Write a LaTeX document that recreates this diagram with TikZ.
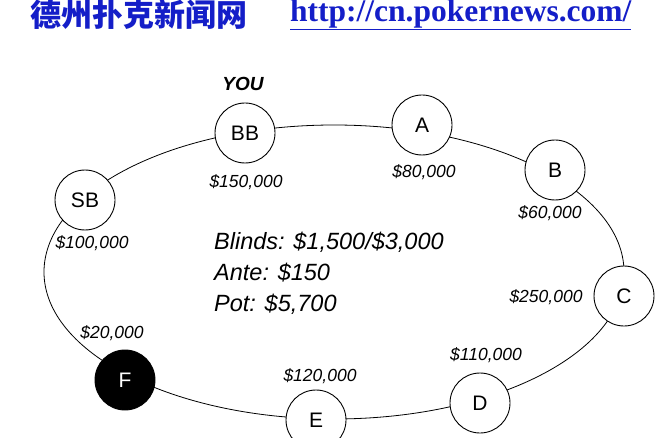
\documentclass[tikz,border=0pt]{standalone}
\usepackage{fontspec}
\setmainfont{Liberation Sans}
\newfontfamily\cjk{Noto Sans CJK SC}
\newfontfamily\urlfont{Liberation Serif}
\definecolor{headblue}{RGB}{20,30,200}
\tikzset{
  seat/.style={circle, draw, line width=0.9pt, minimum size=60pt, inner sep=0pt, fill=white, font=\fontsize{21}{21}\selectfont},
  stack/.style={font=\itshape\fontsize{17.5}{17.5}\selectfont},
}
\begin{document}
\begin{tikzpicture}[x=1pt, y=-1pt]
    \useasboundingbox[fill=white] (0,0) rectangle (660,438);
    % header
    \node[anchor=west, text=headblue, inner sep=0pt, font=\cjk\bfseries\fontsize{31}{31}\selectfont] (site) at (30,15) {德州扑克新闻网};
    \node[anchor=west, text=headblue, inner sep=0pt, font=\urlfont\bfseries\fontsize{31.5}{31.5}\selectfont] (url) at (290,15) {\underline{http://cn.pokernews.com/}};

    % table
    \draw[line width=0.8pt] (334,272) ellipse (290 and 147);

    \node[seat] (BB) at (245,133) {BB};
    \node[seat] (A) at (422,125) {A};
    \node[seat] (B) at (555,170) {B};
    \node[seat] (C) at (624,296) {C};
    \node[seat] (D) at (480,403) {D};
    \node[seat] (E) at (316,420) {E};
    \node[seat, fill=black, text=white] (F) at (125,380) {F};
    \node[seat] (SB) at (85,200) {SB};

    \node[font=\bfseries\itshape\fontsize{19}{19}\selectfont] (you) at (243,84) {YOU};
    \node[stack] (sBB) at (246,182) {\$150,000};
    \node[stack] (sA) at (424,172) {\$80,000};
    \node[stack] (sB) at (550,213) {\$60,000};
    \node[stack] (sC) at (546,297) {\$250,000};
    \node[stack] (sD) at (486,355) {\$110,000};
    \node[stack] (sE) at (320,376) {\$120,000};
    \node[stack] (sF) at (112,333) {\$20,000};
    \node[stack] (sSB) at (92,243) {\$100,000};

    \node[anchor=north west, align=left, inner sep=0pt, font=\itshape\fontsize{23.5}{31}\selectfont] (info) at (214,232)
        {Blinds: \$1,500/\$3,000\\Ante: \$150\\Pot: \$5,700};
\end{tikzpicture}
\end{document}
